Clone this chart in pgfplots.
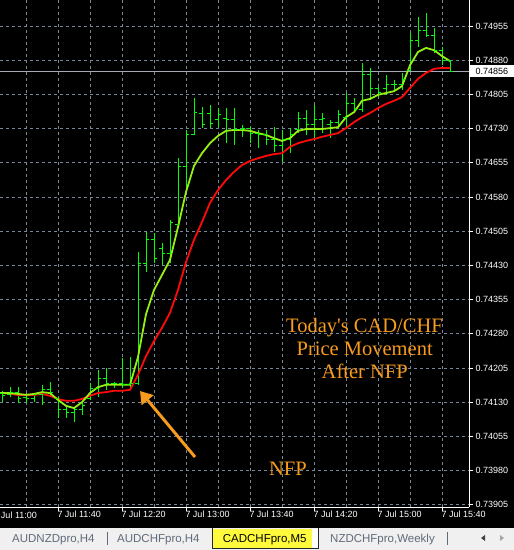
\documentclass[border=0pt]{standalone}
\usepackage{pgfplots}
\pgfplotsset{compat=1.18}
\usepackage{pgfplotstable}
\usepackage{fontspec}
\setmainfont{Liberation Sans}
\newfontfamily\annfont{Liberation Serif}
\usetikzlibrary{arrows.meta}

\definecolor{gridcol}{RGB}{120,134,154}
\definecolor{barcol}{RGB}{0,255,0}
\definecolor{fastma}{RGB}{150,240,20}
\definecolor{slowma}{RGB}{255,10,10}
\definecolor{annot}{RGB}{247,155,30}
\definecolor{tabtext}{RGB}{96,106,122}
\definecolor{tabbg}{RGB}{240,240,240}
\definecolor{tabyellow}{RGB}{255,250,60}

% OHLC open/close ticks
\pgfdeclareplotmark{ohlcopen}{\pgfpathmoveto{\pgfqpoint{-3pt}{0pt}}\pgfpathlineto{\pgfqpoint{0.5pt}{0pt}}\pgfusepathqstroke}
\pgfdeclareplotmark{ohlcclose}{\pgfpathmoveto{\pgfqpoint{-0.5pt}{0pt}}\pgfpathlineto{\pgfqpoint{3pt}{0pt}}\pgfusepathqstroke}

% CADCHF M5 bars, n = 5-minute bars since 11:00
\pgfplotstableread{
n H L O C
1 0.74155 0.74130 0.74150 0.74144
2 0.74163 0.74141 0.74146 0.74152
3 0.74163 0.74128 0.74152 0.74139
4 0.74150 0.74128 0.74141 0.74137
5 0.74150 0.74130 0.74139 0.74146
6 0.74168 0.74124 0.74146 0.74157
7 0.74174 0.74146 0.74157 0.74152
8 0.74141 0.74095 0.74139 0.74113
9 0.74124 0.74095 0.74113 0.74108
10 0.74119 0.74087 0.74108 0.74113
11 0.74128 0.74102 0.74113 0.74122
12 0.74172 0.74135 0.74139 0.74161
13 0.74201 0.74141 0.74161 0.74183
14 0.74205 0.74157 0.74183 0.74170
15 0.74174 0.74161 0.74170 0.74170
16 0.74227 0.74161 0.74170 0.74168
17 0.74229 0.74157 0.74168 0.74170
18 0.74459 0.74168 0.74172 0.74435
19 0.74503 0.74416 0.74435 0.74486
20 0.74501 0.74435 0.74486 0.74446
21 0.74479 0.74431 0.74468 0.74457
22 0.74530 0.74435 0.74457 0.74523
23 0.74665 0.74514 0.74519 0.74646
24 0.74727 0.74595 0.74646 0.74716
25 0.74797 0.74716 0.74716 0.74766
26 0.74777 0.74731 0.74764 0.74738
27 0.74782 0.74731 0.74764 0.74742
28 0.74775 0.74733 0.74749 0.74760
29 0.74775 0.74698 0.74753 0.74749
30 0.74775 0.74694 0.74749 0.74727
31 0.74738 0.74712 0.74727 0.74731
32 0.74733 0.74698 0.74731 0.74720
33 0.74727 0.74687 0.74720 0.74716
34 0.74727 0.74694 0.74716 0.74705
35 0.74733 0.74679 0.74705 0.74694
36 0.74727 0.74657 0.74694 0.74705
37 0.74731 0.74676 0.74705 0.74716
38 0.74766 0.74720 0.74727 0.74753
39 0.74771 0.74716 0.74753 0.74738
40 0.74782 0.74705 0.74738 0.74749
41 0.74764 0.74720 0.74749 0.74753
42 0.74749 0.74709 0.74738 0.74744
43 0.74771 0.74733 0.74744 0.74760
44 0.74808 0.74733 0.74755 0.74786
45 0.74797 0.74764 0.74786 0.74771
46 0.74874 0.74766 0.74771 0.74848
47 0.74863 0.74793 0.74848 0.74819
48 0.74821 0.74799 0.74819 0.74810
49 0.74848 0.74804 0.74819 0.74826
50 0.74837 0.74810 0.74826 0.74826
51 0.74852 0.74815 0.74826 0.74837
52 0.74940 0.74858 0.74858 0.74924
53 0.74975 0.74909 0.74924 0.74946
54 0.74983 0.74931 0.74946 0.74935
55 0.74951 0.74896 0.74935 0.74902
56 0.74909 0.74869 0.74902 0.74880
57 0.74880 0.74854 0.74880 0.74856
}\bars

% moving averages (fast = G, slow = R)
\pgfplotstableread{
n G R
0 0.74150 0.74152
1 0.74150 0.74150
2 0.74150 0.74148
3 0.74148 0.74146
4 0.74146 0.74146
5 0.74148 0.74146
6 0.74152 0.74148
7 0.74150 0.74144
8 0.74135 0.74137
9 0.74122 0.74133
10 0.74117 0.74133
11 0.74130 0.74137
12 0.74150 0.74144
13 0.74163 0.74150
14 0.74168 0.74152
15 0.74168 0.74155
16 0.74168 0.74155
17 0.74168 0.74157
18 0.74229 0.74190
19 0.74323 0.74231
20 0.74376 0.74264
21 0.74409 0.74293
22 0.74442 0.74326
23 0.74514 0.74376
24 0.74591 0.74437
25 0.74648 0.74486
26 0.74676 0.74525
27 0.74698 0.74567
28 0.74714 0.74595
29 0.74725 0.74617
30 0.74727 0.74635
31 0.74727 0.74650
32 0.74725 0.74659
33 0.74720 0.74665
34 0.74716 0.74670
35 0.74709 0.74674
36 0.74703 0.74676
37 0.74709 0.74690
38 0.74725 0.74698
39 0.74729 0.74703
40 0.74729 0.74707
41 0.74729 0.74712
42 0.74731 0.74716
43 0.74733 0.74720
44 0.74755 0.74731
45 0.74766 0.74744
46 0.74791 0.74755
47 0.74795 0.74764
48 0.74804 0.74775
49 0.74808 0.74784
50 0.74812 0.74791
51 0.74823 0.74799
52 0.74869 0.74819
53 0.74898 0.74839
54 0.74907 0.74852
55 0.74902 0.74861
56 0.74889 0.74863
57 0.74878 0.74863
}\mas

\begin{document}
\begin{tikzpicture}[x=1pt,y=1pt]
\useasboundingbox (0pt,0pt) rectangle (514pt,550pt);
\clip (0pt,0pt) rectangle (514pt,550pt);
\fill[black] (0pt,0pt) rectangle (514pt,550pt);

\begin{axis}[
    at={(0pt,43pt)}, anchor=south west,
    scale only axis, width=469pt, height=507pt,
    xmin=0.75, xmax=59.375,
    ymin=0.739001, ymax=0.75012,
    axis x line*=bottom, axis y line*=right,
    axis line style={white, line width=1pt},
    axis background/.style={fill=black},
    tick align=outside,
    major tick length=4pt, minor tick length=0pt,
    every tick/.style={white, line width=0.8pt},
    xtick={8,16,...,56},
    minor xtick={4,12,...,52},
    xticklabels={7 Jul 11:40, 7 Jul 12:20, 7 Jul 13:00, 7 Jul 13:40, 7 Jul 14:20, 7 Jul 15:00, 7 Jul 15:40},
    ytick={0.73905,0.73980,0.74055,0.74130,0.74205,0.74280,0.74355,0.74430,0.74505,0.74580,0.74655,0.74730,0.74805,0.74880,0.74955},
    yticklabels={0.73905,0.73980,0.74055,0.74130,0.74205,0.74280,0.74355,0.74430,0.74505,0.74580,0.74655,0.74730,0.74805,0.74880,0.74955},
    scaled y ticks=false, scaled x ticks=false,
    grid=both,
    major grid style={gridcol, line width=0.8pt, dash pattern=on 3pt off 3pt},
    minor grid style={gridcol, line width=0.8pt, dash pattern=on 3pt off 3pt},
    ticklabel style={font=\fontsize{9}{10}\selectfont, text=white, inner sep=0pt},
    xticklabel style={anchor=north west, xshift=-0.7pt, yshift=0pt},
    yticklabel style={anchor=west, xshift=2.5pt},
]
% bid line
\addplot[color={rgb,255:red,165;green,170;blue,180}, line width=0.9pt, mark=none] coordinates {(0.75,0.74856) (59.375,0.74856)};
% high-low bars
\addplot[draw=none, mark=none, forget plot,
    error bars/.cd, y dir=plus, y explicit, error mark=none,
    error bar style={draw=barcol, line width=1pt, solid}]
    table[x=n, y=L, y error expr=\thisrow{H}-\thisrow{L}] {\bars};
% open and close ticks
\addplot[draw=none, mark=ohlcopen, mark options={draw=barcol, line width=1pt, solid}] table[x=n, y=O] {\bars};
\addplot[draw=none, mark=ohlcclose, mark options={draw=barcol, line width=1pt, solid}] table[x=n, y=C] {\bars};
% moving averages
\addplot[slowma, line width=1.8pt, mark=none] table[x=n, y=R] {\mas};
\addplot[fastma, line width=1.8pt, mark=none] table[x=n, y=G] {\mas};
\end{axis}

% cut-off first time label and current price box
\node[anchor=north west, inner sep=0pt, text=white, font=\fontsize{9}{10}\selectfont] at (-6.7pt,38.5pt) {7 Jul 11:00};
\fill[white] (470pt,473pt) rectangle (514pt,484.5pt);
\node[anchor=west, inner sep=0pt, text=black, font=\fontsize{9}{10}\selectfont] at (475.5pt,479pt) {0.74856};

% annotation
\begin{scope}[annot, font=\annfont\fontsize{20.5}{23.5}\selectfont]
\node[anchor=base] at (364.5pt,217.5pt) {Today's CAD/CHF};
\node[anchor=base] at (364.7pt,194.3pt) {Price Movement};
\node[anchor=base] at (364.7pt,171.7pt) {After NFP};
\node[anchor=base] at (288pt,74.3pt) {NFP};
\end{scope}
\draw[annot, line width=3pt, -{Triangle[width=15pt,length=12pt]}] (195pt,93pt) -- (140pt,159pt);

% symbol tabs
\fill[tabbg] (0pt,0pt) rectangle (514pt,22pt);
\fill[tabyellow] (212pt,2pt) rectangle (312pt,21pt);
\fill[white] (312pt,2pt) rectangle (318pt,21pt);
\draw[black!85, line width=0.8pt] (212pt,21.5pt) -- (212pt,1.8pt) -- (318pt,1.8pt) -- (318pt,21.5pt);
\begin{scope}[font=\fontsize{11.5}{13}\selectfont]
\node[anchor=base west, inner sep=0pt, text=tabtext] at (12pt,8pt) {AUDNZDpro,H4};
\node[anchor=base west, inner sep=0pt, text=tabtext] at (117pt,8pt) {AUDCHFpro,H4};
\node[anchor=base west, inner sep=0pt, text=black] at (222.7pt,8pt) {CADCHFpro,M5};
\node[anchor=base west, inner sep=0pt, text=tabtext] at (330pt,8pt) {NZDCHFpro,Weekly};
\end{scope}
\draw[tabtext, line width=0.8pt] (107pt,5pt) -- (107pt,18pt);
\draw[tabtext, line width=0.8pt] (447pt,5pt) -- (447pt,18pt);
\fill[black!75] (481pt,12pt) -- (485pt,15pt) -- (485pt,9pt) -- cycle;
\fill[black!35] (504pt,12pt) -- (500pt,15pt) -- (500pt,9pt) -- cycle;
\end{tikzpicture}
\end{document}
